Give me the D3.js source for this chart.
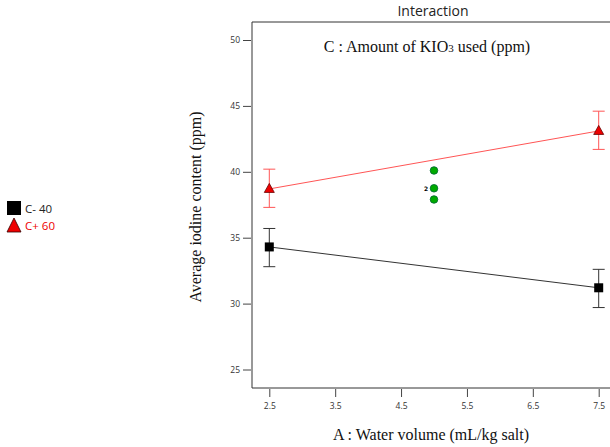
<!DOCTYPE html>
<html><head><meta charset="utf-8">
<script src="https://cdn.jsdelivr.net/npm/d3@7"></script>
<style>body{margin:0;background:#fff}svg{display:block}</style>
</head><body>
<svg id="c" width="610" height="447"></svg>
<script>
const xLevels = [2.5, 7.5];
const xTicks = [2.5, 3.5, 4.5, 5.5, 6.5, 7.5];
const yTicks = [25, 30, 35, 40, 45, 50];
const seriesNames = ["C- 40", "C+ 60"];
const lowMeans = [34.3, 31.2];
const lowLower = [32.8, 29.7];
const lowUpper = [35.7, 32.6];
const highMeans = [38.7, 43.1];
const highLower = [37.3, 41.7];
const highUpper = [40.2, 44.6];
const centerX = [5, 5, 5];
const centerY = [40.1, 38.75, 37.9];
const centerLabels = ["", "2", ""];

const svg = d3.select("#c");
const L = 252, T = 22, R = 612, B = 388;
const x = d3.scaleLinear().domain([2.5, 7.5]).range([269.3, 598.7]);
const y = d3.scaleLinear().domain([25, 50]).range([369.5, 40]);

svg.append("text").attr("x", 433).attr("y", 16).attr("text-anchor", "middle")
  .attr("font-family", "Open Sans, sans-serif").attr("font-size", 14).attr("fill", "#222").text("Interaction");

// frame
svg.append("path").attr("d", `M${R},${T}H${L}V${B}H${R}`).attr("fill", "none").attr("stroke", "#333").attr("stroke-width", 1);

const yAx = svg.append("g").attr("transform", `translate(${L - 1},0)`)
  .call(d3.axisLeft(y).tickValues(yTicks).tickSize(8).tickPadding(3).tickFormat(d3.format("d")));
yAx.select(".domain").remove();
const xAx = svg.append("g").attr("transform", `translate(0,${B + 1})`)
  .call(d3.axisBottom(x).tickValues(xTicks).tickSize(8).tickPadding(6).tickFormat(d3.format(".1f")));
xAx.select(".domain").remove();
svg.selectAll(".tick line").attr("stroke", "#444");
svg.selectAll(".tick text").attr("font-family", "Open Sans, sans-serif").attr("font-size", 8.5).attr("fill", "#333");

svg.append("text").attr("x", 431).attr("y", 440).attr("text-anchor", "middle")
  .attr("font-family", "Liberation Serif, serif").attr("font-size", 16).attr("fill", "#111")
  .text("A : Water volume (mL/kg salt)");
svg.append("text").attr("transform", "translate(201,207) rotate(-90)").attr("text-anchor", "middle")
  .attr("font-family", "Liberation Serif, serif").attr("font-size", 16).attr("fill", "#111")
  .text("Average iodine content (ppm)");

const sub = svg.append("text").attr("x", 427).attr("y", 52).attr("text-anchor", "middle")
  .attr("font-family", "Liberation Serif, serif").attr("font-size", 16).attr("fill", "#111");
sub.append("tspan").text("C : Amount of KIO");
sub.append("tspan").attr("font-size", 11).text("3");
sub.append("tspan").text(" used (ppm)");

function series(means, lo, hi, color, shape) {
  const g = svg.append("g");
  g.append("path").attr("d", d3.line()(xLevels.map((v, i) => [x(v), y(means[i])])))
    .attr("stroke", color).attr("fill", "none").attr("stroke-width", 1);
  xLevels.forEach((v, i) => {
    const cx = x(v);
    g.append("line").attr("x1", cx).attr("x2", cx).attr("y1", y(lo[i])).attr("y2", y(hi[i])).attr("stroke", color);
    [lo[i], hi[i]].forEach(e => g.append("line").attr("x1", cx - 6).attr("x2", cx + 6).attr("y1", y(e)).attr("y2", y(e)).attr("stroke", color));
    if (shape === "square") {
      g.append("rect").attr("x", cx - 4.5).attr("y", y(means[i]) - 4.5).attr("width", 9).attr("height", 9).attr("fill", "#000");
    } else {
      g.append("path").attr("transform", `translate(${cx},${y(means[i])})`)
        .attr("d", "M0,-5.5L5,3.5L-5,3.5Z").attr("fill", "#e00").attr("stroke", "#600").attr("stroke-width", 0.8);
    }
  });
}
series(lowMeans, lowLower, lowUpper, "#333", "square");
series(highMeans, highLower, highUpper, "#f55", "triangle");

centerX.forEach((v, i) => {
  svg.append("circle").attr("cx", x(v)).attr("cy", y(centerY[i])).attr("r", 3.8)
    .attr("fill", "#0a0").attr("stroke", "#063").attr("stroke-width", 0.8);
  if (centerLabels[i]) svg.append("text").attr("x", x(v) - 8).attr("y", y(centerY[i]) + 2.5)
    .attr("text-anchor", "middle").attr("font-family", "DejaVu Sans, sans-serif").attr("font-size", 6).attr("font-weight", "bold").text(centerLabels[i]);
});

// legend
const lg = svg.append("g");
lg.append("rect").attr("x", 7).attr("y", 201).attr("width", 14).attr("height", 14).attr("fill", "#000");
lg.append("text").attr("x", 25).attr("y", 213).attr("font-family", "Open Sans, sans-serif").attr("font-size", 11.5).attr("fill", "#222").text(seriesNames[0]);
lg.append("path").attr("d", "M14,218L21,232L7,232Z").attr("fill", "#e00").attr("stroke", "#300").attr("stroke-width", 0.8);
lg.append("text").attr("x", 25).attr("y", 230).attr("font-family", "Open Sans, sans-serif").attr("font-size", 11.5).attr("fill", "#e00").text(seriesNames[1]);
</script>
</body></html>
